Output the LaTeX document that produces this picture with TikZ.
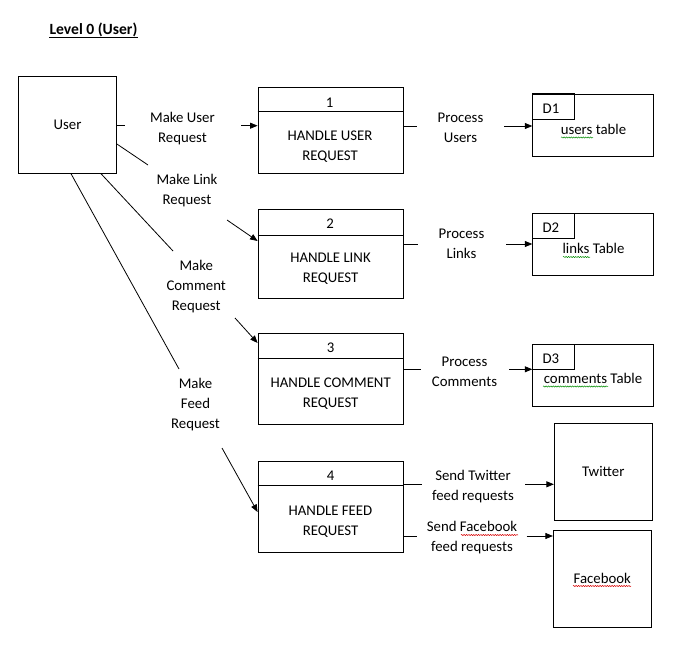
\documentclass[tikz,border=0pt]{standalone}
\usepackage{fontspec}
\setmainfont{Carlito}
\usetikzlibrary{arrows.meta,decorations.pathmorphing}
\begin{document}
\begin{tikzpicture}[x=1pt,y=-1pt,
  every node/.style={font=\fontsize{14.8}{20}\selectfont, inner sep=0pt},
  lbl/.style={align=center},
  ent/.style={draw, line width=0.8pt, minimum width=98pt, minimum height=97pt},
  proc/.style={draw, line width=0.8pt, minimum width=145pt},
  store/.style={draw, line width=0.8pt, minimum width=120.6pt, minimum height=62pt},
  rule/.style={line width=0.8pt},
  flow/.style={line width=0.8pt},
  arr/.style={flow, -{Triangle[length=7.5pt,width=6pt]}},
  wave/.style={decorate, decoration={snake, amplitude=0.6pt, segment length=2.4pt}, line width=0.5pt},
  gram/.style={wave, draw=green!55!black},
  spell/.style={wave, draw=red!85!black}]
\useasboundingbox[fill=white] (0,0) rectangle (694,661);

% title
\node[anchor=base, font=\bfseries\fontsize{15.6}{20}\selectfont] (title) at (93.5,35) {Level 0 (User)};
\draw[rule] ([yshift=-2pt]title.base west) -- ([yshift=-2pt]title.base east);

% external entities
\node[ent] (user) at (67.5,124.8) {User};
\node[ent] (tw) at (603.3,471.7) {Twitter};
\node[ent, minimum height=97.3pt] (fb) at (602.3,578.7) {Facebook};
\draw[spell] (573,586) -- (631,586);

% processes
\node[proc, minimum height=86pt] (p1) at (330.5,130.3) {};
\draw[rule] ([yshift=-25pt]p1.north west) -- ([yshift=-25pt]p1.north east);
\node (n1) at (329.5,103.3) {\strut 1};
\node[lbl] (t1) at (330,146.8) {\strut HANDLE USER\\\strut REQUEST};

\node[proc, minimum height=89pt] (p2) at (330.5,253.8) {};
\draw[rule] ([yshift=-26.7pt]p2.north west) -- ([yshift=-26.7pt]p2.north east);
\node (n2) at (330,224.3) {\strut 2};
\node[lbl] (t2) at (330.5,268.5) {\strut HANDLE LINK\\\strut REQUEST};

\node[proc, minimum height=91pt] (p3) at (330.5,378.8) {};
\draw[rule] ([yshift=-25pt]p3.north west) -- ([yshift=-25pt]p3.north east);
\node (n3) at (330.5,348.1) {\strut 3};
\node[lbl] (t3) at (330.7,393.3) {\strut HANDLE COMMENT\\\strut REQUEST};

\node[proc, minimum height=90.6pt] (p4) at (330.5,507) {};
\draw[rule] ([yshift=-24.3pt]p4.north west) -- ([yshift=-24.3pt]p4.north east);
\node (n4) at (330.5,476.3) {\strut 4};
\node[lbl] (t4) at (330.5,521.5) {\strut HANDLE FEED\\\strut REQUEST};

% data stores
\node[store] (d1) at (593,125.3) {};
\draw[rule] (d1.north west) rectangle ++(42.3,25);
\node (d1l) at (551,109.8) {\strut D1};
\node (d1t) at (593.5,130.1) {\strut users table};
\draw[gram] (561,137.5) -- (593,137.5);

\node[store, minimum height=61.7pt] (d2) at (593,244.2) {};
\draw[rule] (d2.north west) rectangle ++(42.3,25);
\node (d2l) at (550.8,228.8) {\strut D2};
\node (d2t) at (593.5,249.1) {\strut links Table};
\draw[gram] (563,257) -- (590,257);

\node[store] (d3) at (593,375.3) {};
\draw[rule] (d3.north west) rectangle ++(42.3,25);
\node (d3l) at (550.8,359.5) {\strut D3};
\node (d3t) at (593,379.5) {\strut comments Table};
\draw[gram] (543,386.5) -- (608,386.5);

% flow labels
\node[lbl] (lu) at (182.5,128.3) {\strut Make User\\\strut Request};
\node[lbl] (ll) at (187,190.1) {\strut Make Link\\\strut Request};
\node[lbl] (lc) at (196.2,286.3) {\strut Make\\\strut Comment\\\strut Request};
\node[lbl] (lf) at (195.5,404.4) {\strut Make\\\strut Feed\\\strut Request};
\node[lbl] (lpu) at (460.5,128.8) {\strut Process\\\strut Users};
\node[lbl] (lpl) at (461.5,244.7) {\strut Process\\\strut Links};
\node[lbl] (lpc) at (464.5,372) {\strut Process\\\strut Comments};
\node[lbl] (lst) at (473,486) {\strut Send Twitter\\\strut feed requests};
\node[lbl] (lsf) at (472,537.4) {\strut Send Facebook\\\strut feed requests};
\draw[spell] (461,535) -- (518,535);

% user -> process 1
\coordinate (uA) at (125,125.7);
\coordinate (uB) at (241,125.7);
\draw[flow] (user.east |- uA) -- (uA);
\draw[arr] (uB) -- (uB -| p1.west);

% user -> process 2
\coordinate (lS) at (116.7,144);
\coordinate (lA) at (148,165);
\coordinate (lB) at (227,220);
\coordinate (lE) at (258,241);
\draw[flow] (user.east |- lS) -- (lA);
\draw[arr] (lB) -- (p2.west |- lE);

% user -> process 3
\coordinate (cS) at (101,173.3);
\coordinate (cA) at (173,251);
\coordinate (cB) at (235,318);
\coordinate (cE) at (258,343);
\draw[flow] (cS |- user.south) -- (cA);
\draw[arr] (cB) -- (p3.west |- cE);

% user -> process 4
\coordinate (fS) at (71,173.3);
\coordinate (fA) at (179,369);
\coordinate (fB) at (222,448);
\coordinate (fE) at (258,512);
\draw[flow] (fS |- user.south) -- (fA);
\draw[arr] (fB) -- (p4.west |- fE);

% processes -> stores
\coordinate (a1) at (416.7,126);
\coordinate (b1) at (504,126);
\draw[flow] (p1.east |- a1) -- (a1);
\draw[arr] (b1) -- (b1 -| d1.west);

\coordinate (a2) at (418.3,244);
\coordinate (b2) at (506,244);
\draw[flow] (p2.east |- a2) -- (a2);
\draw[arr] (b2) -- (b2 -| d2.west);

\coordinate (a3) at (420.7,369.3);
\coordinate (b3) at (509,369.3);
\draw[flow] (p3.east |- a3) -- (a3);
\draw[arr] (b3) -- (b3 -| d3.west);

% process 4 -> Twitter / Facebook
\coordinate (a4) at (421.7,484.3);
\coordinate (b4) at (525,484.3);
\draw[flow] (p4.east |- a4) -- (a4);
\draw[arr] (b4) -- (b4 -| tw.west);

\coordinate (a5) at (416.7,536);
\coordinate (b5) at (526.7,536);
\draw[flow] (p4.east |- a5) -- (a5);
\draw[arr] (b5) -- (b5 -| fb.west);
\end{tikzpicture}
\end{document}
